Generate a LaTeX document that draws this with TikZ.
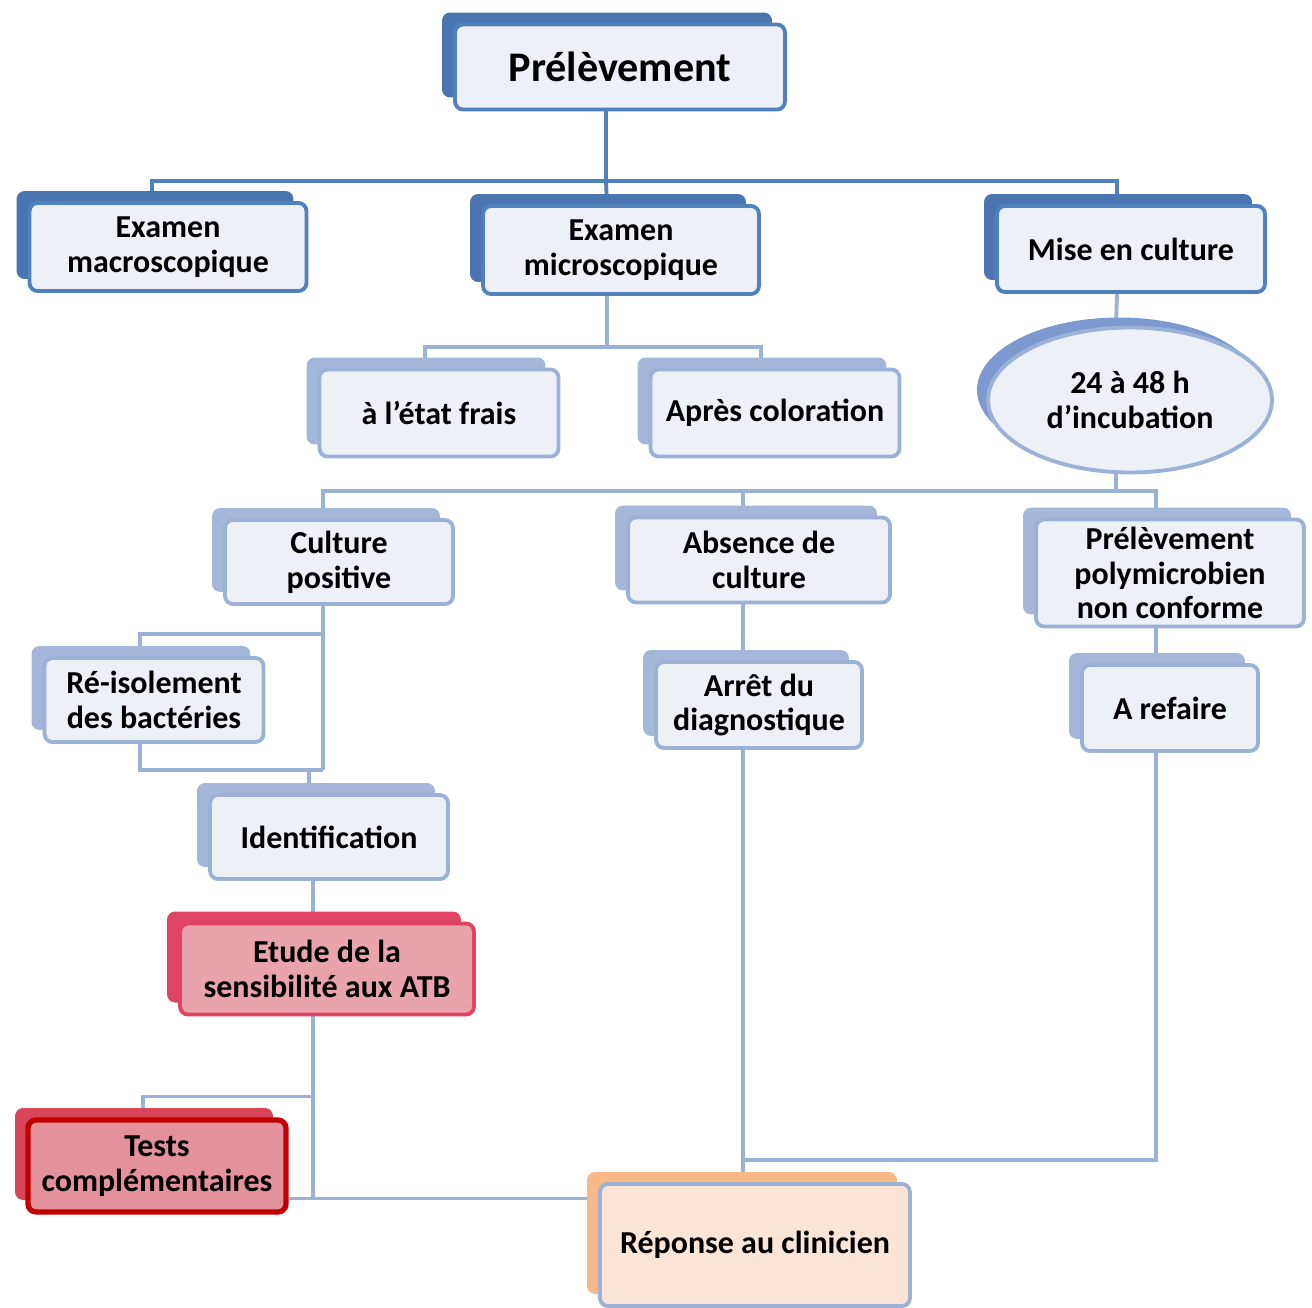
\documentclass[tikz,border=0pt]{standalone}
\usepackage{fontspec}
\setmainfont{Carlito}
\usetikzlibrary{shapes.geometric,shadows,calc,backgrounds}
\definecolor{mainblue}{HTML}{4F81BD}
\definecolor{mainback}{HTML}{4A75B0}
\definecolor{boxfill}{HTML}{EDF0F7}
\definecolor{subblue}{HTML}{9BB1D6}
\definecolor{subback}{HTML}{A5B7D9}
\definecolor{incubback}{HTML}{7C9AD0}
\definecolor{atbfill}{HTML}{E8A3AC}
\definecolor{atbdraw}{HTML}{E14460}
\definecolor{atbback}{HTML}{DF4464}
\definecolor{testfill}{HTML}{E3919D}
\definecolor{testdraw}{HTML}{C00000}
\definecolor{testback}{HTML}{D84458}
\definecolor{replyfill}{HTML}{FDE5D6}
\definecolor{replyback}{HTML}{F8B887}
\tikzset{
  flowbox/.style={draw, rounded corners=0.16cm, line width=2.2pt, fill=boxfill,
    align=center, inner sep=2pt, font=\fontsize{18.2}{19.8}\selectfont\bfseries},
  boxsize/.style 2 args={minimum width=#1cm, minimum height=#2cm},
  backshift/.style={shadow xshift=-0.26cm, shadow yshift=0.24cm},
  mainbox/.style={flowbox, draw=mainblue, general shadow={fill=mainback, backshift}},
  subbox/.style={flowbox, draw=subblue, general shadow={fill=subback, backshift}},
  incubbox/.style={flowbox, ellipse, draw=subblue, general shadow={fill=incubback, shadow xshift=-0.22cm, shadow yshift=0.2cm}},
  atbbox/.style={flowbox, draw=atbdraw, fill=atbfill, general shadow={fill=atbback, backshift}},
  testbox/.style={flowbox, draw=testdraw, fill=testfill, line width=3pt, general shadow={fill=testback, backshift}},
  replybox/.style={flowbox, draw=subblue, fill=replyfill, general shadow={fill=replyback, backshift}},
  mainlink/.style={draw=mainblue, line width=2.2pt},
  sublink/.style={draw=subblue, line width=2.2pt}
}
\begin{document}
\begin{tikzpicture}[x=0.02cm, y=-0.02cm]
\useasboundingbox (0,0) rectangle (1312,1308);
% top of the tree
\node[mainbox, boxsize={6.6}{1.7}, font=\fontsize{24}{28}\selectfont\bfseries] (prel) at (620,67) {Prélèvement};
\node[mainbox, boxsize={5.54}{1.76}] (macro) at (168,247) {Examen\\macroscopique};
\node[mainbox, boxsize={5.52}{1.76}] (micro) at (621,250) {Examen\\microscopique};
\node[mainbox, boxsize={5.36}{1.72}] (culture) at (1131,249) {Mise en culture};
% second row
\node[subbox, boxsize={4.78}{1.74}] (frais) at (439,413) {à l’état frais};
\node[subbox, boxsize={4.98}{1.74}] (coloration) at (775,413) {Après coloration};
\node[incubbox, boxsize={5.68}{2.9}] (incub) at (1130,400) {24 à 48 h\\d’incubation};
% results of the culture
\node[subbox, boxsize={4.56}{1.68}] (positive) at (339,562) {Culture\\positive};
\node[subbox, boxsize={5.24}{1.7}] (absence) at (759,560) {Absence de\\culture};
\node[subbox, boxsize={5.36}{2.14}] (polymicro) at (1170,573) {Prélèvement\\polymicrobien\\non conforme};
\node[subbox, boxsize={4.38}{1.68}] (reisol) at (154,700) {Ré-isolement\\des bactéries};
\node[subbox, boxsize={4.12}{1.72}] (arret) at (759,705) {Arrêt du\\diagnostique};
\node[subbox, boxsize={3.52}{1.72}] (refaire) at (1170,708) {A refaire};
\node[subbox, boxsize={4.76}{1.68}] (ident) at (329,837) {Identification};
\node[atbbox, boxsize={5.88}{1.82}] (atb) at (327,969) {Etude de la\\sensibilité aux ATB};
\node[testbox, boxsize={5.16}{1.84}] (tests) at (157,1166) {Tests\\complémentaires};
\node[replybox, boxsize={6.2}{2.44}] (reponse) at (755,1245) {Réponse au clinicien};
% connectors
\begin{scope}[on background layer]
\coordinate (top) at ($(prel.south)+(-14,70)$);
\draw[mainlink] ($(prel.south)+(-14,0)$) -- (top);
\draw[mainlink] ($(macro.north)+(-16,0)$) |- (top) -| ($(culture.north)+(-14,0)$);
\draw[mainlink] (top) -- ($(micro.north)+(-14,0)$);
\coordinate (micbar) at ($(micro.south)+(-14,51)$);
\draw[sublink] ($(micro.south)+(-14,0)$) -- (micbar);
\draw[sublink] ($(frais.north)+(-14,0)$) |- (micbar) -| ($(coloration.north)+(-14,0)$);
\draw[sublink] ($(culture.south)+(-14,0)$) -- ($(incub.north)+(-14,0)$);
\coordinate (incbar) at ($(incub.south)+(-14,17)$);
\draw[sublink] ($(incub.south)+(-14,0)$) -- (incbar);
\draw[sublink] ($(positive.north)+(-16,0)$) |- (incbar) -| ($(polymicro.north)+(-14,0)$);
\draw[sublink] (incbar -| absence.north) ++(-16,0) -- ($(absence.north)+(-16,0)$);
% culture positive
\draw[sublink] ($(positive.south)+(-16,0)$) coordinate (p0) -- ++(0,164) coordinate (p1);
\draw[sublink] (p0) ++(0,28) -| ($(reisol.north)+(-14,0)$);
\draw[sublink] ($(reisol.south)+(-14,0)$) |- (p1);
\draw[sublink] ($(ident.north)+(-20,0)$) coordinate (i0) -- (i0 |- p1);
\draw[sublink] ($(ident.south)+(-16,0)$) -- ($(atb.north)+(-14,0)$);
\draw[sublink] ($(atb.south)+(-14,0)$) coordinate (a0) -- ++(0,182) coordinate (a1);
\draw[sublink] (a0) ++(0,80) -| ($(tests.north)+(-14,0)$);
\draw[sublink] (tests.east |- a1) -- (reponse.west |- a1);
% absence and polymicrobien
\draw[sublink] ($(absence.south)+(-16,0)$) -- ($(arret.north)+(-16,0)$);
\draw[sublink] ($(arret.south)+(-16,0)$) coordinate (r0) -- ($(reponse.north)+(-12,0)$);
\draw[sublink] ($(refaire.south)+(-14,0)$) |- ($(r0)+(0,410)$);
\draw[sublink] ($(polymicro.south)+(-14,0)$) -- ($(refaire.north)+(-14,0)$);
\end{scope}
\end{tikzpicture}
\end{document}
